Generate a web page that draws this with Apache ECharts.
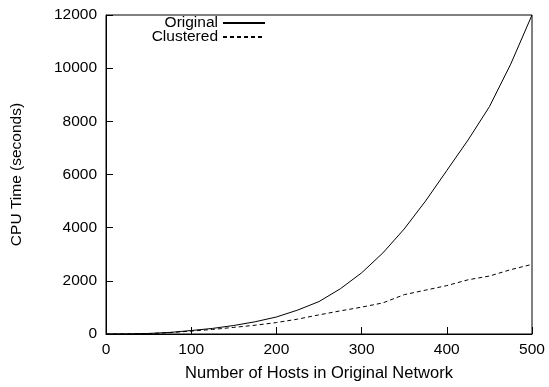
<!DOCTYPE html>
<html>
<head>
<meta charset="utf-8">
<script src="https://cdn.jsdelivr.net/npm/echarts@6/dist/echarts.min.js"></script>
<style>
  html, body { margin: 0; padding: 0; background: #fff; }
  #chart { width: 549px; height: 387px; }
</style>
</head>
<body>
<div id="chart"></div>
<script>
// hosts in original network
const hosts = [0, 25, 50, 75, 100, 125, 150, 175, 200, 225, 250, 275, 300, 325, 350, 375, 400, 425, 450, 475, 500];
// cpu time (seconds)
const originalTime = [0, 5, 20, 60, 130, 210, 320, 460, 640, 900, 1220, 1700, 2300, 3050, 3950, 5000, 6150, 7300, 8550, 10150, 12000];
const clusteredTime = [0, 3, 15, 50, 110, 170, 250, 330, 430, 560, 720, 870, 1010, 1170, 1480, 1650, 1820, 2040, 2180, 2420, 2620];

const font = 'Liberation Sans, Arial, sans-serif';

const myChart = echarts.init(document.getElementById('chart'));

const toPairs = (xs, ys) => xs.map((x, i) => [x, ys[i]]);

const legendBase = {
  orient: 'vertical',
  align: 'right',
  right: 283,
  padding: 0,
  itemWidth: 42,
  itemHeight: 10,
  itemStyle: { opacity: 0 },
  textStyle: { fontFamily: font, fontSize: 15.5, color: '#000' },
};

const option = {
  animation: false,
  grid: {
    left: 106,
    right: 17,
    top: 15,
    bottom: 51,
    show: true,
    borderColor: '#000',
    borderWidth: 1,
  },
  legend: [
    Object.assign({}, legendBase, { top: 15, data: ['Original'] }),
    Object.assign({}, legendBase, { top: 29, data: ['Clustered'] }),
  ],
  xAxis: {
    type: 'value',
    min: 0,
    max: 500,
    interval: 100,
    name: 'Number of Hosts in Original Network',
    nameLocation: 'middle',
    nameGap: 31,
    nameTextStyle: { fontFamily: font, fontSize: 16.5, color: '#000' },
    axisLine: { show: true, lineStyle: { color: '#000', width: 1 } },
    axisTick: { show: true, inside: true, length: 7, lineStyle: { color: '#000' } },
    axisLabel: { fontFamily: font, fontSize: 15.5, color: '#000', margin: 8 },
    splitLine: { show: false },
  },
  yAxis: {
    type: 'value',
    min: 0,
    max: 12000,
    interval: 2000,
    name: 'CPU Time (seconds)',
    nameLocation: 'middle',
    nameGap: 81,
    nameTextStyle: { fontFamily: font, fontSize: 15.5, color: '#000' },
    axisLine: { show: true, lineStyle: { color: '#000', width: 1 } },
    axisTick: { show: true, inside: true, length: 7, lineStyle: { color: '#000' } },
    axisLabel: {
      fontFamily: font, fontSize: 15.5, color: '#000', margin: 9,
      formatter: (v) => String(v),
    },
    splitLine: { show: false },
  },
  series: [
    {
      name: 'Original',
      type: 'line',
      symbol: 'none',
      lineStyle: { color: '#000', width: 1 },
      itemStyle: { color: '#000' },
      data: toPairs(hosts, originalTime),
    },
    {
      name: 'Clustered',
      type: 'line',
      symbol: 'none',
      lineStyle: { color: '#000', width: 1, type: [4, 3] },
      itemStyle: { color: '#000' },
      data: toPairs(hosts, clusteredTime),
    },
  ],
};
myChart.setOption(option);
</script>
</body>
</html>
